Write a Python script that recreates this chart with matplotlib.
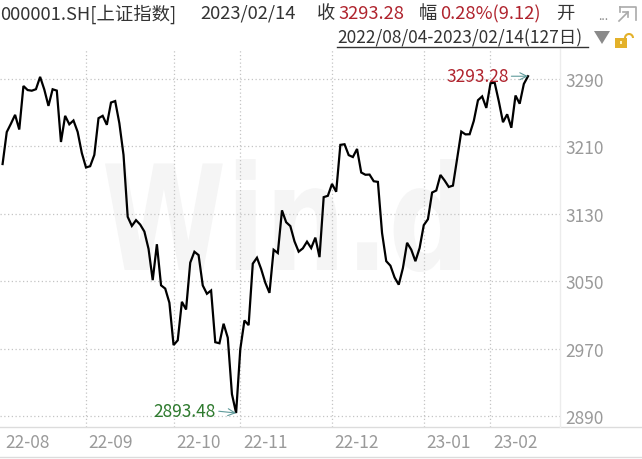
import matplotlib
matplotlib.use('Agg')
import matplotlib.pyplot as plt
from matplotlib.lines import Line2D
from matplotlib.patches import Polygon, Rectangle, PathPatch, Arc
from matplotlib.textpath import TextPath
from matplotlib.font_manager import FontProperties
from matplotlib.transforms import Affine2D, IdentityTransform
import numpy as np

plt.rcParams['font.family'] = ['Noto Sans CJK SC', 'DejaVu Sans']

# ---------------- data (daily close, SSE Composite) ----------------
aug = [3189.04, 3227.03, 3236.93, 3247.43, 3230.02, 3281.67, 3276.89, 3276.09, 3277.88, 3292.53,
       3277.54, 3258.08, 3277.79, 3276.22, 3215.20, 3246.25, 3236.22, 3240.73, 3227.22, 3202.14]
sep = [3184.98, 3186.48, 3199.91, 3243.45, 3246.29, 3235.59, 3262.05, 3263.80, 3237.54, 3199.92,
       3126.40, 3115.60, 3122.41, 3117.18, 3108.91, 3088.37, 3051.23, 3093.86, 3045.07, 3041.20, 3024.39]
octo = [2974.15, 2979.79, 3025.51, 3016.36, 3071.99, 3084.94, 3080.96, 3044.94, 3035.05, 3038.93,
        2977.56, 2976.28, 2999.50, 2982.90, 2915.93, 2893.48]
nov = [2969.20, 3003.37, 2997.81, 3070.80, 3077.82, 3064.49, 3048.17, 3036.13, 3087.29, 3083.40,
       3134.08, 3119.98, 3115.43, 3097.24, 3085.04, 3088.94, 3096.91, 3089.31, 3101.69, 3078.55,
       3149.75, 3151.34]
dec = [3165.47, 3156.14, 3211.81, 3212.53, 3199.62, 3197.35, 3206.95, 3179.04, 3176.33, 3176.53,
       3168.65, 3167.86, 3107.12, 3073.77, 3068.41, 3054.43, 3045.87, 3065.56, 3095.57, 3087.40,
       3073.70, 3089.26]
jan = [3116.51, 3123.52, 3155.22, 3157.64, 3176.08, 3169.51, 3161.84, 3163.45, 3195.31, 3227.59,
       3224.24, 3224.41, 3240.28, 3264.81, 3269.32, 3255.67]
feb = [3284.92, 3285.67, 3263.41, 3238.70, 3248.09, 3232.11, 3270.38, 3260.67, 3284.16, 3293.28]

months = [aug, sep, octo, nov, dec, jan, feb]
month_labels = ['22-08', '22-09', '22-10', '22-11', '22-12', '23-01', '23-02']
y_ticks = [2890, 2970, 3050, 3130, 3210, 3290]

header1 = [('000001.SH[上证指数]', 'k'), ('2023/02/14', 'k'), ('收', 'k'), ('3293.28', 'r'),
           ('幅', 'k'), ('0.28%(9.12)', 'r'), ('开', 'k')]
header2 = '2022/08/04-2023/02/14(127日)'
max_label = '3293.28'
min_label = '2893.48'

# ---------------- derived ----------------
close = np.concatenate([np.array(m) for m in months])
idx = np.arange(len(close))
month_start = np.cumsum([0] + [len(m) for m in months[:-1]])
i_max = int(np.argmax(close))
i_min = int(np.argmin(close))

W, H = 642, 460
fig = plt.figure(figsize=(W / 100, H / 100), dpi=100)
fig.patch.set_facecolor('white')

def fx(x):
    return x / W

def fy(y):
    return 1 - y / H

TOP, BOT, RIGHT = 50, 428, 560
ax = fig.add_axes([0, fy(BOT), fx(RIGHT), (BOT - TOP) / H])
ax.set_xlim(-0.62, 133.67)
ax.set_ylim(2876.9, 3325.6)
ax.patch.set_visible(False)
for s in ax.spines.values():
    s.set_visible(False)

GRAY_TXT = '#9a9a9a'
RED = '#b0242e'
GREEN = '#2e7a2e'
DARK = '#333333'

# grid
for v in y_ticks:
    ax.axhline(v, color='#c4c4c4', lw=0.9, ls=(0, (1, 2)), zorder=1)
for m in month_start[1:]:
    ax.axvline(m, color='#c4c4c4', lw=0.9, ls=(0, (1, 2)), zorder=1)

# watermark
wm = TextPath((0, 0), 'Win.d', prop=FontProperties(family='DejaVu Sans', weight='bold'), size=100)
ext = wm.get_extents()
bx0, bx1, by0, by1 = 105, 460, H - 273, H - 160
tr = (Affine2D().translate(-ext.x0, -ext.y0)
      .scale((bx1 - bx0) / ext.width, (by1 - by0) / ext.height)
      .translate(bx0, by0))
ax.add_artist(PathPatch(tr.transform_path(wm), transform=IdentityTransform(),
                        facecolor='#f5f5f5', edgecolor='none', zorder=0, clip_on=False))

# line
ax.plot(idx, close, color='black', lw=1.6, zorder=3, solid_joinstyle='miter')

# y tick labels on right
ax.yaxis.tick_right()
ax.set_yticks(y_ticks)
ax.set_yticklabels([str(v) for v in y_ticks])
ax.tick_params(axis='y', length=0, pad=4, labelsize=12.5, labelcolor=GRAY_TXT)
ax.set_xticks([])

# month labels
for m, lab in zip(month_start, month_labels):
    ax.annotate(lab, xy=(m, 0), xycoords=('data', 'axes fraction'),
                xytext=(2, -11), textcoords='offset points', ha='left', va='center',
                fontsize=12.5, color=GRAY_TXT)

# max / min annotations
arrow = dict(arrowstyle='->', color='#5f9a9a', lw=0.8, shrinkA=0, shrinkB=0, relpos=(1, 0.5))
ax.annotate(max_label, xy=(i_max, close[i_max]), xytext=(-14, 0), textcoords='offset points',
            ha='right', va='center', fontsize=12.5, color=RED, arrowprops=arrow, zorder=4)
ax.annotate(min_label, xy=(i_min, close[i_min]), xytext=(-14.5, 1.5), textcoords='offset points',
            ha='right', va='center', fontsize=12.5, color=GREEN, arrowprops=arrow, zorder=4)

# frame lines
fig.add_artist(Line2D([0, 1], [fy(BOT), fy(BOT)], color='#dcdcdc', lw=1))
fig.add_artist(Line2D([fx(RIGHT), fx(RIGHT)], [fy(BOT), fy(TOP)], color='#ececec', lw=1))
fig.add_artist(Line2D([0, 1], [fy(458), fy(458)], color='#dcdcdc', lw=1))

# header line 1
h1_x = [0, 200, 317, 338, 419, 440, 556]
for (t, c), x in zip(header1, h1_x):
    fig.text(fx(x), fy(14), t, ha='left', va='center', fontsize=13.2,
             color=RED if c == 'r' else DARK)
fig.text(fx(598), fy(17), '...', ha='left', va='center', fontsize=9, color='#888888')
# expand icon
fig.add_artist(Line2D([fx(620), fx(636), fx(636)], [fy(8), fy(8), fy(21)], color='#aaaaaa', lw=1.2))
fig.add_artist(Line2D([fx(620), fx(620)], [fy(8), fy(13)], color='#aaaaaa', lw=1.2))
fig.add_artist(Line2D([fx(619), fx(628)], [fy(22), fy(13)], color='#aaaaaa', lw=1.2))
fig.add_artist(Line2D([fx(623), fx(628), fx(628)], [fy(13), fy(13), fy(18)], color='#aaaaaa', lw=1.2))

# header line 2
fig.text(fx(337), fy(38), header2, ha='left', va='center', fontsize=12.5, color=DARK)
fig.add_artist(Line2D([fx(337), fx(588)], [fy(48), fy(48)], color=DARK, lw=1))
fig.add_artist(Polygon([[fx(594), fy(32)], [fx(610), fy(32)], [fx(602), fy(45)]],
                       closed=True, facecolor='#8a8a8a', edgecolor='none', transform=fig.transFigure))
# lock icon
fig.add_artist(Rectangle((fx(615), fy(49)), fx(12), 10 / H, facecolor='#e3b12a', edgecolor='none',
                         transform=fig.transFigure))
fig.add_artist(Rectangle((fx(620), fy(45)), fx(2), 3 / H, facecolor='#fff3c0', edgecolor='none',
                         transform=fig.transFigure))
fig.add_artist(Arc((fx(629), fy(39)), fx(8), 8 / H, theta1=0, theta2=180, color='#e3b12a', lw=1.5,
                   transform=fig.transFigure))

fig.savefig('out.png', dpi=100, facecolor='white')
